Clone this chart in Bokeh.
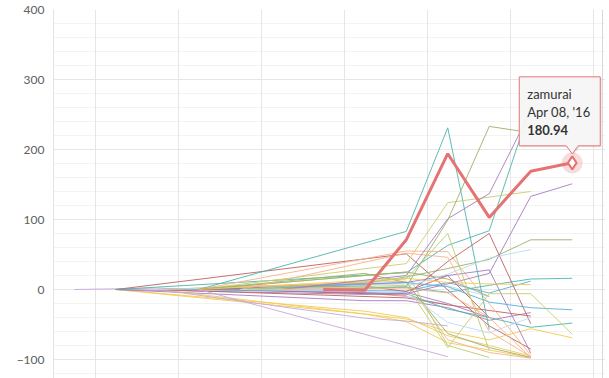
from bokeh.plotting import figure
from bokeh.models import Range1d, FixedTicker, Grid, Span
from bokeh.core.properties import value
from bokeh.embed import file_html
from bokeh.resources import INLINE

# ---------------- data (category index 0..12, % change) ----------------
y_ticks = [-100, 0, 100, 200, 300, 400]
y_minor = list(range(-140, 401, 20))
x_grid_ticks = [0.5, 2.5, 4.5, 6.5, 8.5, 10.5, 12.5]

hover_name = "zamurai"
hover_date = "Apr 08, '16"
hover_value = 180.94

zamurai_x = [6, 7, 8, 9, 10, 11, 12]
zamurai_y = [0, -1, 71, 194, 103, 169, 180.94]

teal_a = ([3, 8, 9, 10], [0, 83, 231, -57])
olive_b = ([6, 8, 9, 10, 11], [0, 4, 99, 233, 224])
purple_c = ([5, 8, 9, 10, 11], [0, 20, 101, 137, 255])
teal_d = ([1, 8, 9, 10, 11], [0, 24, 63, 84, 262])
purple_e = ([4, 8, 9, 10, 11, 12], [0, -6, 8, 23, 133, 151])
olive_f = ([2, 7, 8, 9, 10, 11, 12], [0, 9, 18, 30, 43, 71, 71])
ygreen_g = ([3, 8, 9, 11], [0, 37, 124, 140])
maroon_a = ([1, 8, 10, 11], [0, 51, -52, -85])
maroon_b = ([4, 8, 9, 10, 11], [0, -8, 40, 80, -49])
peach_a = ([3, 8, 9, 10, 11], [0, 55, 54, -20, -94])
lblue_a = ([5, 8, 9, 10, 11], [0, 4, 22, 45, 57])
teal_b = ([2, 8, 9, 10, 11, 12], [0, 3, -4, 6, 15, 16])
blue_a = ([4, 8, 9, 10, 11, 12], [0, 10, 4, -18, -26, -29])
teal_c = ([3, 8, 9, 10, 11, 12], [0, -6, -28, -40, -54, -48])
ygreen_b = ([4, 8, 9, 10, 11, 12], [0, 6, -83, -6, -6, -64])
gold_a = ([2, 8, 9, 10, 11, 12], [0, -42, -60, -72, -56, -69])
gold_b = ([3, 8, 9, 10, 11], [0, 16, 10, 8, 7])
lav_a = ([3, 9], [0, -96])
gold_c = ([1, 7, 8, 9, 10, 11], [0, -31, -40, -66, -80, -95])
gold_d = ([1, 7, 8, 9, 11], [0, -35, -46, -76, -97])
lav_b = ([2, 7, 8, 9], [0, -41, -45, -52])
purple_f = ([1, 7, 8, 9, 10, 11], [0, -16, -16, -26, -44, -33])
olive_c = ([3, 7, 8, 9, 10, 11], [0, 23, 10, -63, -83, -97])
peach_b = ([4, 8, 9, 10, 11], [0, 52, 46, -60, -96])
peach_c = ([2, 8, 9, 10, 11], [0, 12, -72, -90, -98])
lime_a = ([3, 8, 9, 10], [0, 25, -80, -97])
lime_b = ([4, 8, 9, 10], [0, 15, 80, -87])
purple_g = ([3, 8, 9, 10, 11], [0, 10, 20, 28, -91])
lblue_b = ([4, 8, 9, 10, 11], [0, -4, -47, -62, -40])
maroon_c = ([2, 8, 9, 10, 11], [0, -12, -22, -30, -38])
lav_c = ([0, 1, 2, 3, 7, 8, 9], [0, 1, 2, 0, -5, -10, -22])
purple_h = ([1, 7, 8, 9, 10], [0, -7, -4, -20, -40])
olive_d = ([3, 8, 9, 10], [0, 25, 15, -10])
peach_d = ([5, 8, 9, 10, 11], [0, 2, -5, -40, -97])
lblue_c = ([2, 8, 9, 10], [0, 8, 5, -10])
blue_b = ([3, 8, 9, 10, 11], [0, -2, 10, -5, 12])
maroon_d = ([3, 7, 8, 9, 10], [0, 5, -3, 20, -40])

# ---------------- styles ----------------
RED_Z = "#e57373"
TEAL = "#4db6ac"
MAROON = "#c0605f"
OLIVE = "#9bb06b"
PURPLE = "#a77bc0"
YGREEN = "#cccc66"
PEACH = "#f7b28a"
LBLUE = "#b9dbf4"
BLUE = "#5aafdc"
GOLD = "#f3cb55"
LAV = "#c5a8d9"
LIME = "#b5cf6b"

series = [
    (lav_c, LAV), (gold_c, GOLD), (gold_d, GOLD), (purple_f, PURPLE), (purple_h, PURPLE),
    (maroon_a, MAROON), (teal_d, TEAL), (teal_b, TEAL), (olive_f, OLIVE), (gold_a, GOLD),
    (lav_b, LAV), (maroon_c, MAROON), (peach_c, PEACH), (lblue_c, LBLUE),
    (teal_a, TEAL), (ygreen_g, YGREEN), (peach_a, PEACH), (teal_c, TEAL), (lav_a, LAV),
    (olive_c, OLIVE), (lime_a, LIME), (purple_g, PURPLE), (olive_d, OLIVE), (blue_b, BLUE),
    (maroon_d, MAROON), (gold_b, GOLD),
    (maroon_b, MAROON), (purple_e, PURPLE), (blue_a, BLUE), (ygreen_b, YGREEN),
    (peach_b, PEACH), (lime_b, LIME), (lblue_b, LBLUE), (purple_c, PURPLE),
    (lblue_a, LBLUE), (peach_d, PEACH), (olive_b, OLIVE),
]

W, H = 605, 378
BL, BT = 53, 9
FRAME_W = W - BL
FRAME_H = H - BT
PX_X = 41.5
PX_Y = 0.7
X_LO = -0.5
X_HI = X_LO + FRAME_W / PX_X
Y_HI = 400
Y_LO = Y_HI - FRAME_H / PX_Y

p = figure(width=W, height=H, x_range=Range1d(X_LO, X_HI), y_range=Range1d(Y_LO, Y_HI),
           x_axis_type=None, output_backend="svg", toolbar_location=None,
           min_border_left=BL, min_border_right=0, min_border_top=BT, min_border_bottom=0)
p.outline_line_color = None
p.background_fill_color = "white"
p.border_fill_color = "white"

yt = FixedTicker(ticks=y_ticks, minor_ticks=y_minor)
p.yaxis.ticker = yt
p.yaxis.axis_line_color = "#e3e3e3"
p.yaxis.major_tick_line_color = None
p.yaxis.minor_tick_line_color = None
p.yaxis.major_tick_out = 0
p.yaxis.major_label_standoff = 5
p.yaxis.major_label_text_font = "Lato"
p.yaxis.major_label_text_font_size = "12px"
p.yaxis.major_label_text_color = "#606060"
p.ygrid.ticker = yt
p.ygrid.grid_line_color = "#e6e6e6"
p.ygrid.minor_grid_line_color = "#f3f3f3"

p.add_layout(Grid(dimension=0, ticker=FixedTicker(ticks=x_grid_ticks),
                  grid_line_color="#e6e6e6"))
# container edge on the right
p.add_layout(Span(location=X_LO + (W - BL - 3) / PX_X, dimension="height",
                  line_color="#d8d8d8", line_width=1))

for (xs, ys), col in series:
    p.line(xs, ys, line_color=col, line_width=1, line_alpha=0.9)

p.line(zamurai_x, zamurai_y, line_color=RED_Z, line_width=3)

px, py = zamurai_x[-1], zamurai_y[-1]
p.scatter([px], [py], size=21, fill_color=RED_Z, fill_alpha=0.25, line_color=None)
p.scatter([px], [py], marker="diamond", size=13, fill_color="white",
          line_color=RED_Z, line_width=2)

# tooltip callout, positioned in pixels relative to the hovered point
def dx(pix):
    return px + pix / PX_X

def dy(pix):
    return py + pix / PX_Y

L, R, T, B, TIP, NW = -53, 28, 86, 17, 9, 6
cx = [dx(L), dx(R), dx(R), dx(NW), dx(0), dx(-NW), dx(L)]
cy = [dy(T), dy(T), dy(B), dy(B), dy(TIP), dy(B), dy(B)]
p.patch([v + 1.5 / PX_X for v in cx], [v - 1.5 / PX_Y for v in cy],
        fill_color="black", fill_alpha=0.08, line_color=None)
p.patch(cx, cy, fill_color="#f7f7f7", fill_alpha=0.95, line_color=RED_Z, line_width=1)

tf = value("Lato")
p.text([px], [py], text=[hover_name], x_offset=-45, y_offset=-69, text_font=tf,
       text_font_size="13px", text_color="#333333", text_baseline="middle")
p.text([px], [py], text=[hover_date], x_offset=-45, y_offset=-51, text_font=tf,
       text_font_size="13px", text_color="#333333", text_baseline="middle")
p.text([px], [py], text=["%.2f" % hover_value], x_offset=-45, y_offset=-33, text_font=tf,
       text_font_size="13px", text_font_style="bold", text_color="#333333",
       text_baseline="middle")

open("out.html", "w").write(file_html(p, INLINE))
